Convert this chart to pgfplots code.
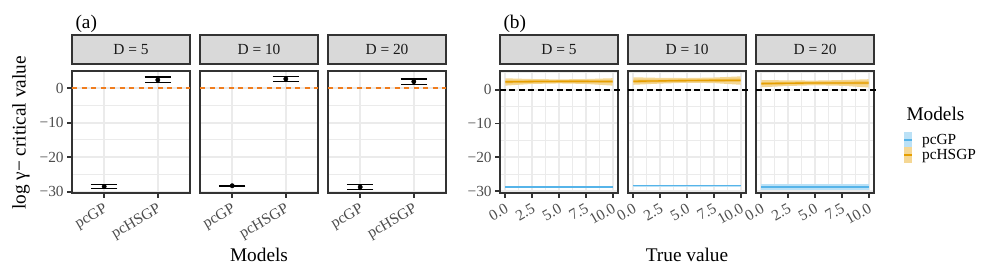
\documentclass[border=0pt]{standalone}
\usepackage{pgfplots}
\pgfplotsset{compat=1.18}
\usepackage{fontspec}
\setmainfont{Liberation Serif}
\definecolor{grey10}{HTML}{1A1A1A}
\definecolor{grey20}{HTML}{333333}
\definecolor{grey30}{HTML}{4D4D4D}
\definecolor{grey85}{HTML}{D9D9D9}
\definecolor{grey92}{HTML}{EBEBEB}
\definecolor{okblue}{HTML}{56B4E9}
\definecolor{okorange}{HTML}{E69F00}
\definecolor{dashA}{HTML}{F07D1E}
\definecolor{dashB}{HTML}{DD7A3A}
\colorlet{blueout}{okblue!40!white}
\colorlet{bluein}{okblue!62!white}
\colorlet{orout}{okorange!42!white}
\colorlet{orin}{okorange!62!white}
\newcommand{\ticksz}{\fontsize{15.4pt}{18pt}\selectfont}
\newcommand{\titlesz}{\fontsize{19.3pt}{23pt}\selectfont}
\newcommand{\zeroline}{(-0.267,0) (0.618,0) (1.503,0) (2.388,0) (3.273,0) (4.158,0) (5.043,0) (5.928,0) (6.813,0) (7.698,0) (8.583,0) (9.468,0) (10.353,0)}
\pgfplotsset{
  facet/.style={
    scale only axis, width=118pt, height=122pt, anchor=south west,
    axis line style={grey20, line width=1.8pt},
    tick align=outside, major tick length=4.8pt, minor tick length=0pt,
    tick style={grey20, line width=1.8pt},
    xtick pos=bottom, ytick pos=left,
    grid=both,
    major grid style={grey92, line width=1.9pt},
    minor grid style={grey92, line width=0.95pt},
    tick label style={font=\ticksz, text=grey30},
    xticklabel style={rotate=30, anchor=north east},
    title style={at={(0.5,1)}, anchor=south, draw=grey20, line width=1.8pt,
      fill=grey85, minimum width=118pt, minimum height=29pt, inner sep=0pt,
      font=\ticksz, text=grey10},
    ytick={-30,-20,-10,0}, yticklabels={−30,−20,−10,0},
  },
  facetA/.style={facet, xmin=0.4, xmax=2.6, ymin=-30.4, ymax=5.0,
    xtick={1,2}, xticklabels={pcGP,pcHSGP}, minor ytick={-25,-15,-5}},
  facetB/.style={facet, xmin=-0.5, xmax=10.5, ymin=-30.6, ymax=5.53,
    xtick={0,2.5,5,7.5,10}, xticklabels={0.0,2.5,5.0,7.5,10.0},
    minor xtick={1.25,3.75,6.25,8.75}, minor ytick={-25,-15,-5,5}},
  noy/.style={yticklabels={}, ytick style={draw=none}},
  ebar/.style={black, only marks, mark=*, mark size=2.2pt,
    error bars/.cd, y dir=both, y explicit,
    error bar style={line width=1.4pt, black},
    error mark options={rotate=90, black, line width=1.4pt, mark size=13.3pt}},
  hline/.style={color=#1, solid, dash pattern=on 5pt off 4.5pt, line width=1.6pt, forget plot},
  rib/.style={draw=none, fill=#1, forget plot},
  dashmarks/.style={only marks, mark=square*, mark size=1pt, forget plot,
    mark options={draw=none, fill=#1, xscale=2.5, yscale=0.8}},
}
\begin{document}
\begin{tikzpicture}
\useasboundingbox (0pt,0pt) rectangle (997pt,-277pt);
% ---------------- (a) ----------------
\begin{axis}[facetA, at={(72pt,-193pt)}, title={D = 5}]
\addplot[hline=dashA] coordinates {(0.4,0) (2.6,0)};
\addplot[ebar] coordinates {(1,-28.52) +=(0,0.52) -=(0,0.52) (2,2.41) +=(0,0.87) -=(0,0.78)};
\end{axis}
\begin{axis}[facetA, noy, at={(200pt,-193pt)}, title={D = 10}]
\addplot[hline=dashA] coordinates {(0.4,0) (2.6,0)};
\addplot[ebar] coordinates {(1,-28.29) +=(0,0.06) -=(0,0.06) (2,2.70) +=(0,0.79) -=(0,0.67)};
\end{axis}
\begin{axis}[facetA, noy, at={(328pt,-193pt)}, title={D = 20}]
\addplot[hline=dashA] coordinates {(0.4,0) (2.6,0)};
\addplot[ebar] coordinates {(1,-28.67) +=(0,0.79) -=(0,0.66) (2,1.92) +=(0,0.78) -=(0,0.76)};
\end{axis}
% ---------------- (b) ----------------
\begin{axis}[facetB, at={(500pt,-193pt)}, title={D = 5}]
\addplot[rib=blueout] coordinates {(0,-28.5) (10,-28.5) (10,-29.2) (0,-29.2)} -- cycle;
\addplot[rib=okblue] coordinates {(0,-28.65) (10,-28.65) (10,-29.05) (0,-29.05)} -- cycle;
\addplot[rib=orout] coordinates {(0,3.37) (2.5,3.15) (5,3.05) (7.5,3.15) (10,3.4) (10,1.2) (7.5,1.7) (5,1.85) (2.5,1.7) (0,1.2)} -- cycle;
\addplot[rib=orin] coordinates {(0,2.75) (2.5,2.8) (5,2.8) (7.5,2.8) (10,2.8) (10,2.0) (7.5,2.1) (5,2.1) (2.5,2.05) (0,1.85)} -- cycle;
\addplot[rib=okorange] coordinates {(0,2.5) (2.5,2.6) (5,2.65) (7.5,2.65) (10,2.6) (10,2.2) (7.5,2.25) (5,2.25) (2.5,2.2) (0,2.1)} -- cycle;
\addplot[dashmarks=dashB] coordinates {\zeroline};
\end{axis}
\begin{axis}[facetB, noy, at={(628pt,-193pt)}, title={D = 10}]
\addplot[rib=blueout] coordinates {(0,-28.1) (10,-28.1) (10,-28.7) (0,-28.7)} -- cycle;
\addplot[rib=okblue] coordinates {(0,-28.2) (10,-28.2) (10,-28.6) (0,-28.6)} -- cycle;
\addplot[rib=orout] coordinates {(0,3.67) (2.5,3.5) (5,3.45) (7.5,3.6) (10,3.95) (10,1.45) (7.5,1.95) (5,2.05) (2.5,1.8) (0,1.45)} -- cycle;
\addplot[rib=orin] coordinates {(0,3.0) (2.5,3.0) (5,3.05) (7.5,3.15) (10,3.3) (10,2.3) (7.5,2.35) (5,2.35) (2.5,2.2) (0,2.0)} -- cycle;
\addplot[rib=okorange] coordinates {(0,2.7) (2.5,2.8) (5,2.9) (7.5,2.95) (10,3.0) (10,2.6) (7.5,2.55) (5,2.5) (2.5,2.4) (0,2.3)} -- cycle;
\addplot[dashmarks=dashB] coordinates {\zeroline};
\end{axis}
\begin{axis}[facetB, noy, at={(756pt,-193pt)}, title={D = 20},
  legend style={at={(axis description cs:1.254,0.502)}, anchor=north west,
    draw=none, fill=none, font=\ticksz, inner sep=0pt, row sep=0pt,
    column sep=11pt, nodes={inner sep=0pt, text=black}},
  legend cell align=left]
\addplot[rib=blueout] coordinates {(0,-27.99) (10,-27.99) (10,-29.67) (0,-29.67)} -- cycle;
\addplot[rib=bluein] coordinates {(0,-28.45) (10,-28.45) (10,-29.25) (0,-29.25)} -- cycle;
\addplot[rib=okblue] coordinates {(0,-28.65) (10,-28.65) (10,-29.05) (0,-29.05)} -- cycle;
\addplot[rib=orout] coordinates {(0,2.87) (2.5,2.75) (5,2.7) (7.5,2.85) (10,3.1) (10,0.65) (7.5,1.15) (5,1.3) (2.5,1.1) (0,0.71)} -- cycle;
\addplot[rib=orin] coordinates {(0,2.2) (2.5,2.25) (5,2.35) (7.5,2.4) (10,2.45) (10,1.55) (7.5,1.6) (5,1.65) (2.5,1.55) (0,1.4)} -- cycle;
\addplot[rib=okorange] coordinates {(0,2.0) (2.5,2.1) (5,2.2) (7.5,2.2) (10,2.2) (10,1.8) (7.5,1.8) (5,1.8) (2.5,1.7) (0,1.6)} -- cycle;
\addplot[dashmarks=dashB] coordinates {\zeroline};
\addlegendimage{legend image code/.code={%
  \fill[blueout] (0pt,-7.5pt) rectangle (6.5pt,7.5pt);
  \fill[okblue] (0pt,-0.6pt) rectangle (6.5pt,0.6pt);}}
\addlegendentry{pcGP}
\addlegendimage{legend image code/.code={%
  \fill[orout] (0pt,-7.5pt) rectangle (6.5pt,7.5pt);
  \fill[okorange] (0pt,-0.6pt) rectangle (6.5pt,0.6pt);}}
\addlegendentry{pcHSGP}
\end{axis}
% ---------------- text ----------------
\node[font=\titlesz, anchor=base west] at (72pt,-28pt) {(a)};
\node[font=\titlesz, anchor=base west] at (500pt,-28pt) {(b)};
\node[font=\titlesz, anchor=base, rotate=90] at (25.5pt,-133pt) {log γ− critical value};
\node[font=\titlesz, anchor=base] at (259pt,-261.5pt) {Models};
\node[font=\titlesz, anchor=base] at (687pt,-261.5pt) {True value};
\node[font=\titlesz, anchor=base west] at (903pt,-120pt) {Models};
\end{tikzpicture}
\end{document}
